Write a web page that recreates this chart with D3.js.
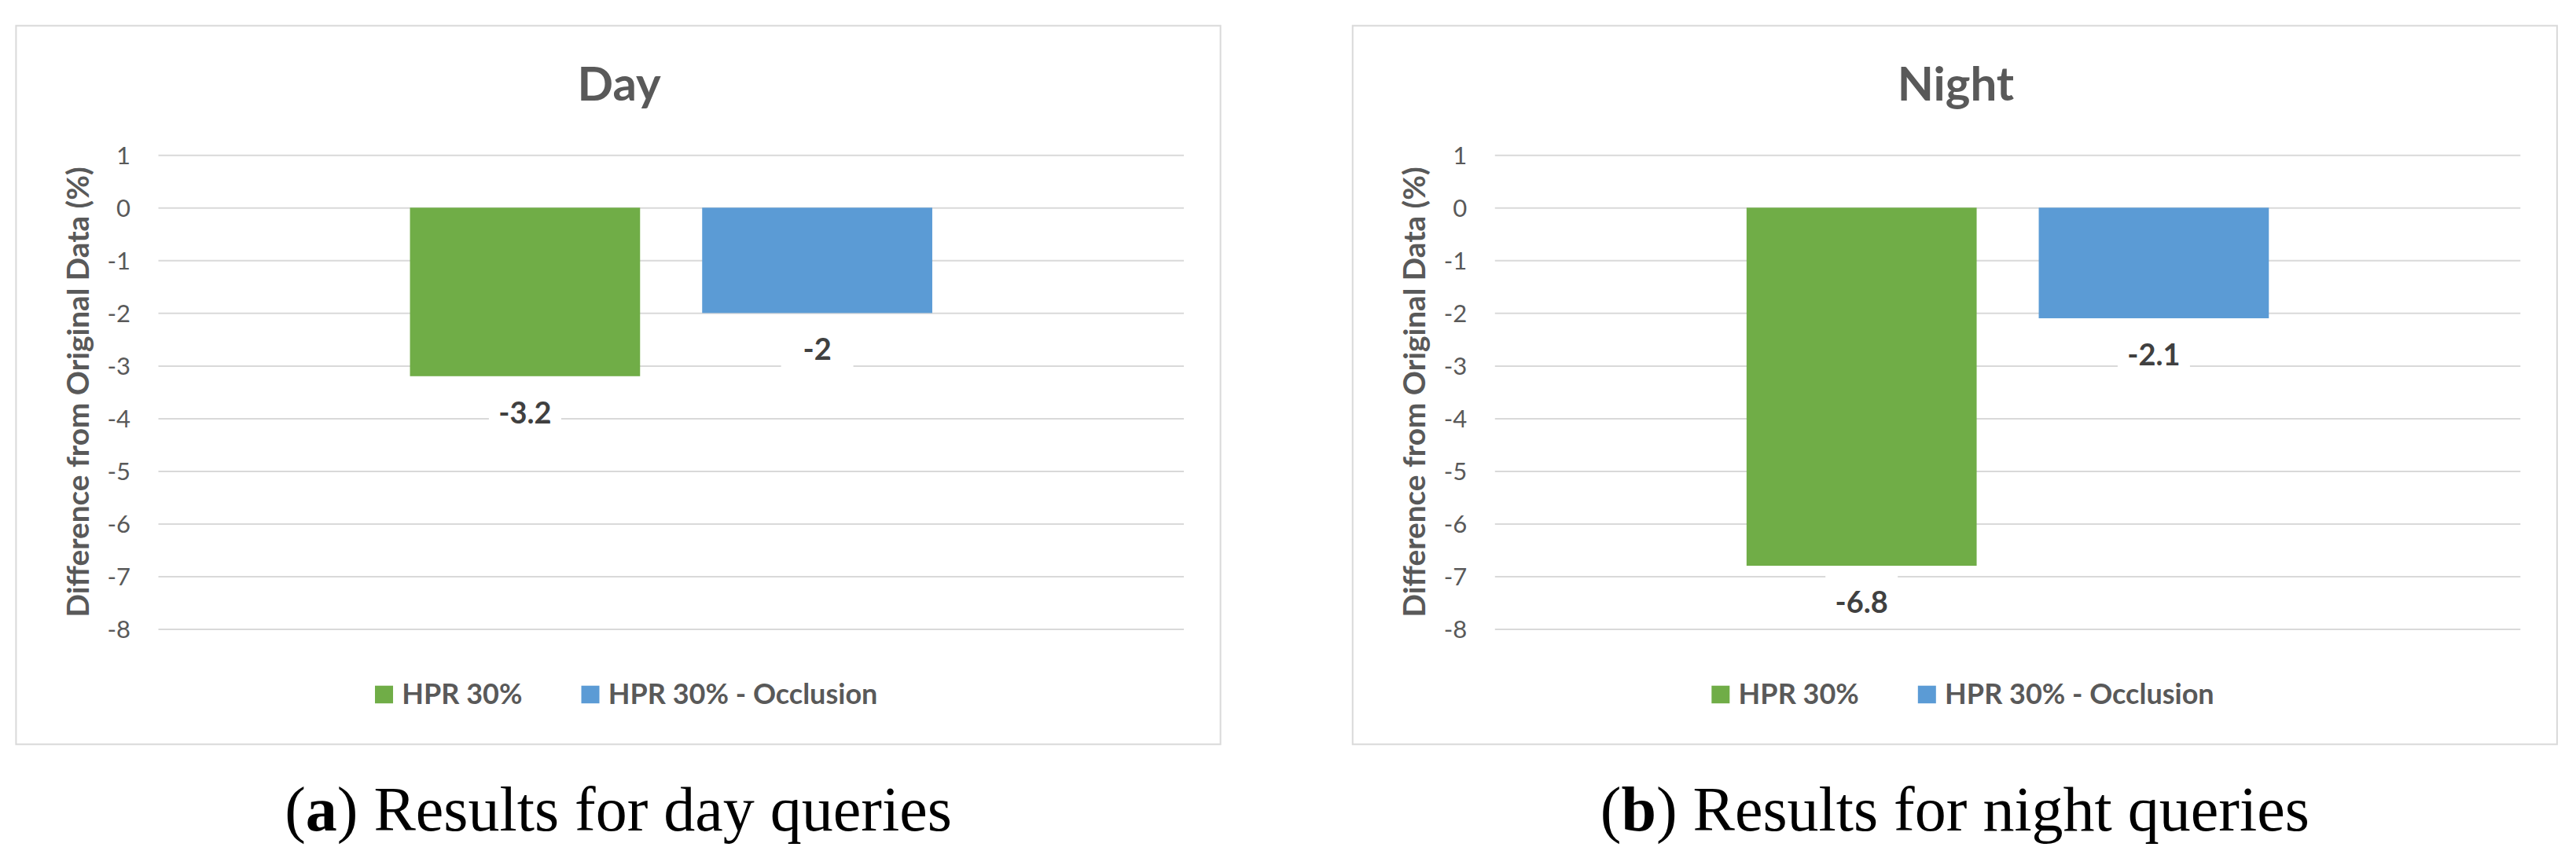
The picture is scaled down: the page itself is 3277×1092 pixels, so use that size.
<!DOCTYPE html>
<html>
<head>
<meta charset="utf-8">
<script src="https://cdn.jsdelivr.net/npm/d3@7"></script>
<style>
  html, body { margin: 0; padding: 0; background: #ffffff; }
  svg { display: block; }
</style>
</head>
<body>
<svg id="chart" width="3277" height="1092"></svg>
<script>
// ---------------- data ----------------
const seriesNames = ["HPR 30%", "HPR 30% - Occlusion"];
const panelTitles = ["Day", "Night"];
const dayValues = [-3.2, -2];
const nightValues = [-6.8, -2.1];
const captionLetters = ["a", "b"];
const captionTexts = [" Results for day queries", " Results for night queries"];
const yTicks = [1, 0, -1, -2, -3, -4, -5, -6, -7, -8];
const yAxisTitle = "Difference from Original Data (%)";
const seriesColors = ["#70AD47", "#5B9BD5"];

const panels = [
  { title: panelTitles[0], values: dayValues, letter: captionLetters[0], caption: captionTexts[0] },
  { title: panelTitles[1], values: nightValues, letter: captionLetters[1], caption: captionTexts[1] }
];

// ---------------- layout ----------------
const svg = d3.select("#chart");
const panelOrigins = [[20.4, 32.7], [1720.7, 32.7]];
const panelW = 1532.2, panelH = 914.6;
const plotL = 181.1, plotR = 1485.6;
const font = "Lato, 'Open Sans', sans-serif";
const textGray = "#595959";
const fmt = d => String(d);

panels.forEach((p, i) => {
  const [ox, oy] = panelOrigins[i];
  const g = svg.append("g").attr("transform", `translate(${ox},${oy})`);

  // panel frame
  g.append("rect")
    .attr("x", 0).attr("y", 0).attr("width", panelW).attr("height", panelH)
    .attr("fill", "#fff").attr("stroke", "#D9D9D9").attr("stroke-width", 2);

  const y = d3.scaleLinear().domain([-8, 1]).range([767.8, 164.6]);
  const x = d3.scaleBand().domain(seriesNames).range([plotL, plotR])
    .paddingInner(0.2125).paddingOuter(0.861).align(0.5);

  // gridlines + tick labels via axis
  const axis = d3.axisLeft(y).tickValues(yTicks)
    .tickSize(-(plotR - plotL)).tickPadding(0).tickFormat(fmt);
  const ag = g.append("g").attr("transform", `translate(${plotL},0)`).call(axis);
  ag.select(".domain").remove();
  ag.selectAll(".tick line").attr("stroke", "#D9D9D9").attr("stroke-width", 2);
  ag.selectAll(".tick text")
    .attr("x", -(plotL - 145.6)).attr("dy", "0.36em")
    .attr("fill", textGray).attr("font-family", font)
    .attr("font-size", 31).attr("text-anchor", "end");

  // bars
  g.selectAll(".bar").data(p.values).enter().append("rect")
    .attr("x", (d, j) => x(seriesNames[j]))
    .attr("width", x.bandwidth())
    .attr("y", d => y(Math.max(0, d)))
    .attr("height", d => Math.abs(y(d) - y(0)))
    .attr("fill", (d, j) => seriesColors[j]);

  // data labels with white box
  p.values.forEach((v, j) => {
    const cx = x(seriesNames[j]) + x.bandwidth() / 2;
    const by = y(v);
    g.append("rect")
      .attr("x", cx - 46).attr("y", by + 10).attr("width", 92).attr("height", 64)
      .attr("fill", "#fff");
    g.append("text")
      .attr("x", cx).attr("y", by + 60)
      .attr("text-anchor", "middle")
      .attr("font-family", font).attr("font-weight", 700).attr("font-size", 38)
      .attr("fill", "#404040")
      .text(fmt(v));
  });

  // title
  g.append("text")
    .attr("x", 767.2).attr("y", 95.6)
    .attr("text-anchor", "middle")
    .attr("font-family", font).attr("font-weight", 700).attr("font-size", 60)
    .attr("fill", textGray)
    .text(p.title);

  // y-axis title
  g.append("text")
    .attr("transform", `translate(92.6,${(y(1) + y(-8)) / 2}) rotate(-90)`)
    .attr("text-anchor", "middle")
    .attr("font-family", font).attr("font-weight", 700).attr("font-size", 38)
    .attr("textLength", 573).attr("lengthAdjust", "spacingAndGlyphs")
    .attr("fill", textGray)
    .text(yAxisTitle);

  // legend
  const lg = g.append("g");
  let cursor = 0;
  seriesNames.forEach((name, j) => {
    lg.append("rect")
      .attr("x", cursor).attr("y", 840).attr("width", 23).attr("height", 22.5)
      .attr("fill", seriesColors[j]);
    const t = lg.append("text")
      .attr("x", cursor + 34.3).attr("y", 863.3)
      .attr("font-family", font).attr("font-weight", 700).attr("font-size", 36)
      .attr("fill", textGray)
      .text(name);
    const w = t.node().getComputedTextLength();
    cursor = cursor + 34.3 + w + (j < seriesNames.length - 1 ? 75 : 0);
  });
  lg.attr("transform", `translate(${776.3 - cursor / 2},0)`);

  // caption
  const cap = svg.append("text")
    .attr("x", ox + panelW / 2).attr("y", 1057.3)
    .attr("text-anchor", "middle")
    .attr("font-family", "'Liberation Serif', 'DejaVu Serif', serif")
    .attr("font-size", 80).attr("fill", "#000");
  cap.append("tspan").text("(");
  cap.append("tspan").attr("font-weight", 700).text(p.letter);
  cap.append("tspan").text(")" + p.caption);
});
</script>
</body>
</html>
